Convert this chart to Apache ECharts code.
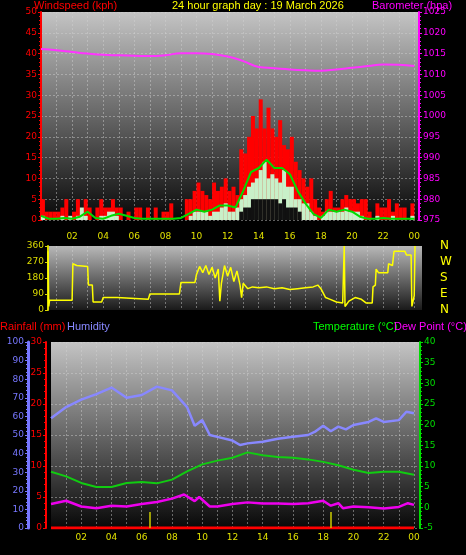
<!DOCTYPE html>
<html>
<head>
<meta charset="utf-8">
<script src="https://cdn.jsdelivr.net/npm/echarts@6/dist/echarts.min.js"></script>
<style>
  html, body { margin: 0; padding: 0; background: #000; }
  #chart { width: 466px; height: 555px; }
</style>
</head>
<body>
<div id="chart"></div>
<script>
// wind, 15 minute slots from 00:00
const gust = [
  5, 2, 2, 2, 2, 3, 5, 0, 2, 5, 0, 5, 3, 0, 3, 5,
  3, 3, 5, 3, 3, 0, 2, 0, 3, 3, 0, 3, 0, 3, 0, 2,
  2, 4, 0, 0, 0, 5, 5, 7, 9, 7, 6, 5, 9, 7, 8, 10,
  7, 8, 6, 17, 16, 20, 25, 22, 29, 22, 27, 22, 20, 24, 18, 17,
  20, 14, 12, 10, 8, 10, 5, 3, 2, 5, 7, 3, 3, 5, 6, 5,
  5, 4, 5, 5, 2, 0, 4, 3, 3, 5, 2, 4, 3, 3, 0, 4
];
const avgWind = [
  1, 0, 0, 0, 0, 1, 0, 1, 0, 1, 3, 1, 0, 0, 0, 1,
  1, 2, 2, 1, 0, 0, 0, 0, 0, 0, 0, 0, 0, 0, 0, 0,
  0, 0, 0, 0, 0, 0, 1, 2, 2, 2, 2, 1, 2, 2, 3, 4,
  2, 2, 3, 5, 6, 8, 9, 10, 12, 14, 10, 11, 10, 9, 12, 8,
  8, 5, 5, 4, 4, 2, 1, 0, 1, 2, 2, 2, 2, 2, 3, 2,
  2, 2, 1, 0, 0, 0, 1, 0, 0, 0, 1, 0, 0, 0, 0, 1
];
const minWind = [
  0, 0, 0, 0, 0, 0, 0, 0, 0, 0, 0, 0, 0, 0, 0, 0,
  0, 0, 0, 0, 0, 0, 0, 0, 0, 0, 0, 0, 0, 0, 0, 0,
  0, 0, 0, 0, 0, 0, 0, 0, 0, 0, 0, 0, 0, 0, 0, 0,
  0, 0, 0, 2, 3, 3, 5, 5, 5, 5, 5, 5, 5, 4, 5, 3,
  3, 3, 2, 0, 0, 0, 0, 0, 0, 0, 0, 0, 0, 0, 0, 0,
  0, 0, 0, 0, 0, 0, 0, 0, 0, 0, 0, 0, 0, 0, 0, 0
];
// 10 minute average, half-hourly
const windAvgLine = [
  1, 0.3, 0.3, 0.5, 0.3, 0.8, 2, 0.5, 0.3, 1, 1.5, 1, 0.5, 0.3, 0.3, 0.3,
  0.3, 0.3, 0.5, 1.5, 2.5, 2, 2.5, 3.5, 3.5, 3, 7, 11.5, 12.5, 14.5, 12.5, 12.5,
  11, 7, 4, 1.5, 0.5, 2.5, 2, 2.5, 2, 0.8, 0.3, 0.3, 0.5, 0.3, 0.3, 0.3, 0.3
];
const baroHours = [0, 1, 2, 3, 4, 5, 6, 7, 8, 9, 10, 11, 12, 13, 14, 15, 16, 17, 18, 19, 20, 21, 22, 23, 24];
const baro = [1016.1, 1015.8, 1015.4, 1015, 1014.7, 1014.6, 1014.5, 1014.4, 1014.6, 1015.1, 1015.1, 1014.9, 1014.3, 1013.2, 1011.8, 1011.5, 1011.2, 1011, 1010.9, 1011.2, 1011.6, 1012, 1012.4, 1012.3, 1012];

const dirTime = [0.45, 0.5, 0.55, 2.0, 2.05, 2.3, 3.0, 3.05, 3.3, 3.35, 3.9, 4.0, 4.9, 5.0, 6.9, 7.0, 8.9, 9.0, 9.9, 10.0,
  10.2, 10.4, 10.6, 10.8, 11.0, 11.2, 11.4, 11.5, 11.6, 11.8, 12.0, 12.2, 12.4, 12.6, 12.8, 12.9, 13.0, 13.3, 13.6, 14.0,
  14.5, 15.0, 15.5, 16.0, 16.5, 17.0, 17.5, 17.8, 18.0, 18.3, 18.6, 19.0, 19.4, 19.5, 19.55, 19.8, 20.2, 20.6, 20.9, 21.3,
  21.35, 21.5, 21.55, 21.7, 22.3, 22.35, 22.6, 22.7, 23.4, 23.5, 23.8, 23.85, 24.0, 24.05];
const dirValue = [330, 20, 55, 55, 260, 250, 245, 140, 140, 45, 45, 70, 70, 60, 60, 90, 90, 155, 155, 200,
  245, 210, 250, 200, 240, 180, 230, 50, 150, 250, 190, 240, 160, 220, 140, 70, 150, 120, 130, 125,
  130, 120, 125, 115, 120, 125, 130, 140, 120, 70, 60, 45, 40, 360, 20, 50, 70, 60, 40, 40,
  130, 140, 230, 210, 210, 260, 250, 330, 330, 310, 310, 20, 80, 360];
const dirLabels = { 0: 'N', 90: 'E', 180: 'S', 270: 'W', 360: 'N' };

const humTime = [0, 1, 2, 3, 4, 5, 6, 7, 8, 9, 9.5, 10, 10.5, 11, 12, 12.5, 13, 14, 15, 16, 17, 17.5, 18, 18.5, 19, 19.5, 20, 21, 21.5, 22, 23, 23.5, 24];
const humidity = [59, 65, 69, 72, 75.5, 70, 71.5, 76, 74, 65, 55, 58, 50, 49, 47, 44.6, 45.5, 46.4, 48, 49, 50, 52, 55, 52, 54.5, 53, 55.4, 57, 59, 57, 58, 62.5, 61.7];
const tempTime = [0, 1, 2, 3, 4, 5, 6, 7, 8, 9, 10, 11, 12, 13, 14, 15, 16, 17, 18, 19, 20, 21, 22, 23, 24];
const temperature = [8.6, 7.5, 5.9, 4.9, 4.9, 5.9, 6.1, 5.8, 6.7, 8.7, 10.4, 11.3, 12, 13.3, 12.6, 12.2, 12, 11.6, 11, 10.2, 9.1, 8.3, 8.6, 8.6, 7.9];
const dewTime = [0, 1, 2, 3, 4, 5, 6, 7, 8, 8.8, 9.5, 9.8, 10.5, 11, 12, 13, 14, 15, 16, 17, 18, 18.5, 19, 19.3, 20, 21, 22, 23, 23.6, 24];
const dewPoint = [0.8, 1.6, 0.2, -0.2, 0.4, 0.2, 0.8, 1.3, 2.1, 3.1, 1.5, 2.5, 0.2, 0.2, 0.8, 1.2, 0.9, 0.9, 0.8, 1.0, 1.6, 0.4, 1.0, -0.2, 0.2, 0, -0.3, 0.1, 1.0, 0.6];
const rainTime = [0, 24];
const rainfall = [0, 0];
const sunMarks = [6.5, 18.5];

const pairs = (xs, ys) => xs.map((x, i) => [x, ys[i]]);
const slots = (arr, step) => arr.map((v, i) => [i * step + step / 2, v]);

const hourFmt = v => (v % 2 === 0 && v > 0 ? String(v % 24).padStart(2, '0') : '');
const plotBg = (top, bottom) => new echarts.graphic.LinearGradient(0, 0, 0, 1, [
  { offset: 0, color: top }, { offset: 1, color: bottom }
]);
const dash = { show: true, lineStyle: { color: 'rgba(210,210,210,0.45)', type: [2, 2], width: 1 } };
const hours = Array.from({ length: 24 }, (_, i) => i + 1);
const evenHours = hours.filter(h => h % 2 === 0);

const xBase = (grid, pos, min, max, showLabels) => ({
  type: 'value', gridIndex: grid, min, max, position: pos,
  axisLine: { show: false },
  axisTick: { show: false, customValues: hours },
  axisLabel: { show: showLabels, color: '#e0e000', fontSize: 9, margin: 5, customValues: evenHours, formatter: hourFmt },
  splitLine: dash
});
const yBase = (grid, min, max, interval, color, extra) => Object.assign({
  type: 'value', gridIndex: grid, min, max, interval,
  axisLine: { show: true, onZero: false, lineStyle: { color, width: 2 } },
  axisTick: { show: true, length: 3, lineStyle: { color } },
  minorTick: { show: true, splitNumber: 5, length: 2, lineStyle: { color } },
  axisLabel: { color, fontSize: 9, margin: 4, formatter: v => String(v) },
  splitLine: { show: false }
}, extra);

const option = {
  backgroundColor: '#000',
  animation: false,
  textStyle: { fontFamily: 'DejaVu Sans' },
  graphic: [
    { type: 'text', left: 34, top: 0, style: { text: 'Windspeed (kph)', fill: '#ff0000', fontSize: 11 } },
    { type: 'text', left: 172, top: 0, style: { text: '24 hour graph day : 19 March 2026', fill: '#ffff00', fontSize: 11 } },
    { type: 'text', left: 372, top: 0, style: { text: 'Barometer (hpa)', fill: '#ff00ff', fontSize: 11 } },
    { type: 'text', left: 0, top: 321, style: { text: 'Rainfall (mm)', fill: '#ff0000', fontSize: 11 } },
    { type: 'text', left: 67, top: 321, style: { text: 'Humidity', fill: '#8888ff', fontSize: 11 } },
    { type: 'text', left: 313, top: 321, style: { text: 'Temperature (°C)', fill: '#00ff00', fontSize: 11 } },
    { type: 'text', left: 394, top: 321, style: { text: 'Dew Point (°C)', fill: '#ff00ff', fontSize: 11 } }
  ],
  grid: [
    { left: 41, right: 47, top: 12, height: 208, show: true, borderWidth: 0, backgroundColor: plotBg('#c4c4c4', '#080808') },
    { left: 48, right: 44, top: 246, height: 64, show: true, borderWidth: 0, backgroundColor: plotBg('#b8b8b8', '#1a1a1a') },
    { left: 51, right: 46, top: 342, height: 186, show: true, borderWidth: 0, backgroundColor: plotBg('#c4c4c4', '#080808') }
  ],
  xAxis: [
    xBase(0, 'bottom', 0, 24.3, false),
    xBase(1, 'top', 0.45, 24.5, true),
    xBase(2, 'bottom', 0, 24.4, true)
  ],
  yAxis: [
    yBase(0, 0, 50, 5, '#ff0000', { position: 'left', splitLine: dash }),
    yBase(0, 975, 1025, 5, '#ff00ff', { position: 'right' }),
    yBase(1, 0, 360, 90, '#dddd00', { position: 'left', minorTick: { show: false } }),
    {
      type: 'value', gridIndex: 1, min: 0, max: 360, interval: 90, position: 'right', offset: 10,
      axisLine: { show: false }, axisTick: { show: false }, splitLine: { show: false },
      axisLabel: { color: '#ffff00', fontSize: 12, formatter: v => dirLabels[v] }
    },
    yBase(2, 0, 100, 10, '#7777ff', { position: 'left', offset: 23, axisLine: { show: true, onZero: false, lineStyle: { color: '#7777ff', width: 3 } } }),
    yBase(2, 0, 30, 5, '#ff0000', { position: 'left', offset: 5, splitLine: dash }),
    yBase(2, -5, 40, 5, '#00dd00', { position: 'right' })
  ],
  series: [
    { type: 'bar', xAxisIndex: 0, yAxisIndex: 0, data: slots(gust, 0.25), barWidth: 4, barGap: '-100%', itemStyle: { color: '#ff0000' } },
    { type: 'bar', xAxisIndex: 0, yAxisIndex: 0, data: slots(avgWind, 0.25), barWidth: 4, barGap: '-100%', itemStyle: { color: '#c8f0c8' } },
    { type: 'bar', xAxisIndex: 0, yAxisIndex: 0, data: slots(minWind, 0.25), barWidth: 4, barGap: '-100%', itemStyle: { color: '#111' } },
    { type: 'line', xAxisIndex: 0, yAxisIndex: 0, data: windAvgLine.map((v, i) => [i * 0.5, v]), showSymbol: false, lineStyle: { color: '#00dd00', width: 2 } },
    { type: 'line', xAxisIndex: 0, yAxisIndex: 1, data: pairs(baroHours, baro), smooth: true, showSymbol: false, lineStyle: { color: '#ff33ff', width: 2 } },
    { type: 'line', xAxisIndex: 1, yAxisIndex: 2, data: pairs(dirTime, dirValue), showSymbol: false, lineStyle: { color: '#ffff00', width: 1.5 } },
    { type: 'line', xAxisIndex: 2, yAxisIndex: 4, data: pairs(humTime, humidity), showSymbol: false, lineStyle: { color: '#8888ff', width: 2.5 } },
    { type: 'line', xAxisIndex: 2, yAxisIndex: 6, data: pairs(tempTime, temperature), showSymbol: false, lineStyle: { color: '#11cc11', width: 2 } },
    { type: 'line', xAxisIndex: 2, yAxisIndex: 6, data: pairs(dewTime, dewPoint), showSymbol: false, lineStyle: { color: '#ee00ee', width: 2.5 } },
    {
      type: 'line', xAxisIndex: 2, yAxisIndex: 5, data: pairs(rainTime, rainfall), showSymbol: false, lineStyle: { color: '#ff0000', width: 3 },
      markLine: {
        symbol: 'none', silent: true, label: { show: false },
        lineStyle: { color: '#cccc00', type: 'solid', width: 1.5 },
        data: sunMarks.map(t => [{ coord: [t, 0] }, { coord: [t, 2.6] }])
      }
    }
  ]
};

const chart = echarts.init(document.getElementById('chart'));
chart.setOption(option);
</script>
</body>
</html>
